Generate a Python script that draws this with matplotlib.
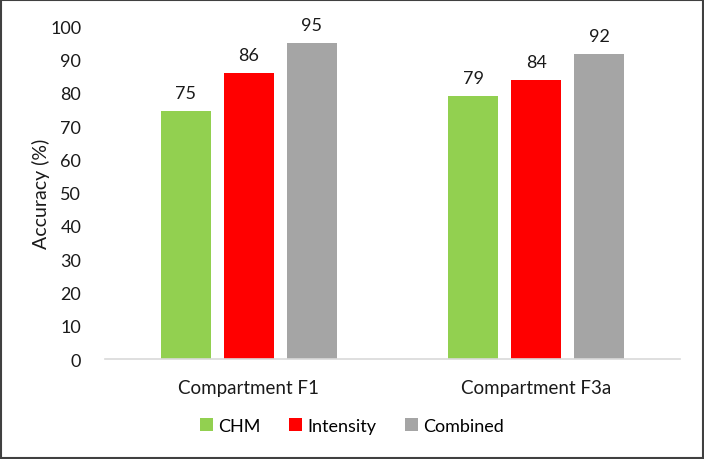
import numpy as np
import matplotlib.pyplot as plt
from matplotlib.patches import Rectangle

plt.rcParams['font.family'] = ['Lato', 'DejaVu Sans']

categories = ['Compartment F1', 'Compartment F3a']
series = ['CHM', 'Intensity', 'Combined']
chm = [74.6, 79.0]
intensity = [85.8, 83.8]
combined = [94.9, 91.6]
colors = ['#92D050', '#FF0000', '#A5A5A5']

fig = plt.figure(figsize=(7.04, 4.6), dpi=100)
ax = fig.add_axes([0.149, 0.217, 0.817, 0.724])

x = np.arange(len(categories))
width = 0.174
step = 0.219
for i, (name, vals) in enumerate(zip(series, [chm, intensity, combined])):
    bars = ax.bar(x + (i - 1) * step, vals, width, color=colors[i], label=name)
    for b, v in zip(bars, vals):
        ax.text(b.get_x() + b.get_width() / 2, v + 3, '%.0f' % v,
                ha='center', va='bottom', fontsize=13, color='#1a1a1a')

ax.set_xlim(-0.5, 1.5)
ax.set_ylim(0, 100)
ax.set_yticks(range(0, 101, 10))
ax.set_xticks(x)
ax.set_xticklabels(categories, fontsize=13.5, color='#1a1a1a')
ax.tick_params(axis='y', labelsize=13, labelcolor='#1a1a1a', length=0, pad=17)
ax.tick_params(axis='x', length=0, pad=14)
for s in ['top', 'right', 'left']:
    ax.spines[s].set_visible(False)
ax.spines['bottom'].set_color('#D9D9D9')
ax.spines['bottom'].set_linewidth(1.2)
ax.set_ylabel('Accuracy (%)', fontsize=14, color='#1a1a1a', labelpad=0)

fig.legend(loc='center', bbox_to_anchor=(0.5, 0.072), ncol=3, frameon=False,
           fontsize=13, handlelength=0.7, handleheight=0.7, handletextpad=0.3,
           columnspacing=1.6)

fig.patches.append(Rectangle((0.002, 0.003), 0.996, 0.994, transform=fig.transFigure,
                             fill=False, edgecolor='#404040', linewidth=1.5))

fig.savefig('out.png', dpi=100)
